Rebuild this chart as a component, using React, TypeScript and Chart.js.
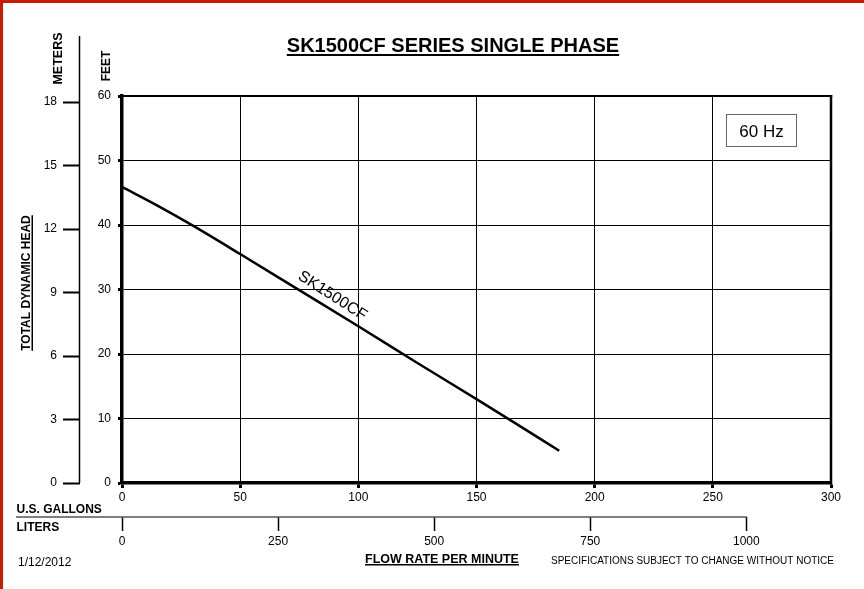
import { useEffect, useRef } from "react";
import { Chart, registerables } from "chart.js";

Chart.register(...registerables);

// ---- data ----
const flowGpm = [0, 15, 30, 50, 75, 100, 125, 150, 165, 185];
const headFt = [45.9, 43.0, 39.9, 35.5, 29.9, 24.3, 18.6, 13.0, 9.6, 5.0];

const gpmTicks = [0, 50, 100, 150, 200, 250, 300];
const feetTicks = [0, 10, 20, 30, 40, 50, 60];
const meterTicks = [0, 3, 6, 9, 12, 15, 18];
const literTicks = [0, 250, 500, 750, 1000];

const GAL_TO_L = 3.78541;
const FT_TO_M = 0.3048;

const titleText = "SK1500CF SERIES SINGLE PHASE";
const seriesName = "SK1500CF";
const hzText = "60 Hz";
const metersText = "METERS";
const feetText = "FEET";
const headText = "TOTAL DYNAMIC HEAD";
const gallonsText = "U.S. GALLONS";
const litersText = "LITERS";
const dateText = "1/12/2012";
const flowText = "FLOW RATE PER MINUTE";
const specText = "SPECIFICATIONS SUBJECT TO CHANGE WITHOUT NOTICE";

const FAMILY = '"Liberation Sans", Arial, Helvetica, sans-serif';

function line(ctx: CanvasRenderingContext2D, x1: number, y1: number, x2: number, y2: number) {
  ctx.beginPath();
  ctx.moveTo(x1, y1);
  ctx.lineTo(x2, y2);
  ctx.stroke();
}

function text(
  ctx: CanvasRenderingContext2D,
  t: string,
  x: number,
  y: number,
  font: string,
  align: CanvasTextAlign,
  opts: { rot?: number; underline?: number; ulOffset?: number; baseline?: CanvasTextBaseline } = {}
) {
  ctx.save();
  ctx.translate(x, y);
  if (opts.rot) ctx.rotate(opts.rot);
  ctx.font = font;
  ctx.fillStyle = "#000";
  ctx.textAlign = align;
  ctx.textBaseline = opts.baseline || "alphabetic";
  ctx.fillText(t, 0, 0);
  if (opts.underline) {
    const w = ctx.measureText(t).width;
    let x0 = 0;
    if (align === "center") x0 = -w / 2;
    else if (align === "right") x0 = -w;
    ctx.fillRect(x0, opts.ulOffset ?? 2, w, opts.underline);
  }
  ctx.restore();
}

const plainLabel = (v: any) => String(v);

const decorPlugin = {
  id: "decor",
  beforeDraw(chart: any) {
    const { ctx, width, height } = chart;
    ctx.save();
    ctx.fillStyle = "#ffffff";
    ctx.fillRect(0, 0, width, height);
    ctx.fillStyle = "#c81e00";
    ctx.fillRect(0, 0, 3, height);
    ctx.fillRect(0, 0, width, 3);
    ctx.restore();
  },
  afterDraw(chart: any) {
    const { ctx, chartArea: ca, scales } = chart;
    ctx.save();
    ctx.strokeStyle = "#000";
    // top and right frame
    ctx.lineWidth = 2;
    line(ctx, ca.left, ca.top, ca.right + 1.2, ca.top);
    ctx.lineWidth = 2.5;
    line(ctx, ca.right, ca.top - 1, ca.right, ca.bottom + 1.5);
    // meters axis line
    const m = scales.yM;
    ctx.lineWidth = 1.5;
    line(ctx, m.right - 0.5, 36, m.right - 0.5, ca.bottom);
    // liters axis line
    const L = scales.xL;
    ctx.strokeStyle = "#555";
    ctx.lineWidth = 1.5;
    line(ctx, 16, L.top, L.getPixelForValue(literTicks[literTicks.length - 1]) + 0.5, L.top);

    // series label along the curve
    const xs = scales.x;
    const ys = scales.y;
    const p1x = xs.getPixelForValue(flowGpm[3]);
    const p1y = ys.getPixelForValue(headFt[3]);
    const p2x = xs.getPixelForValue(flowGpm[7]);
    const p2y = ys.getPixelForValue(headFt[7]);
    const ang = Math.atan2(p2y - p1y, p2x - p1x) + 0.02;
    text(ctx, seriesName, xs.getPixelForValue(89), ys.getPixelForValue(29.0), `16px ${FAMILY}`, "center", {
      rot: ang,
      baseline: "middle",
    });

    // title
    text(ctx, titleText, 453, 52, `bold 20px ${FAMILY}`, "center", { underline: 2, ulOffset: 2 });

    // 60 Hz box
    ctx.strokeStyle = "#666";
    ctx.lineWidth = 1;
    ctx.strokeRect(726.5, 114.5, 70, 32);
    text(ctx, hzText, 761.5, 136.5, `17px ${FAMILY}`, "center");

    // axis titles
    text(ctx, metersText, 61.5, 58.5, `bold 12.5px ${FAMILY}`, "center", { rot: -Math.PI / 2 });
    text(ctx, feetText, 110, 66, `bold 12px ${FAMILY}`, "center", { rot: -Math.PI / 2 });
    text(ctx, headText, 30, 283, `bold 12px ${FAMILY}`, "center", {
      rot: -Math.PI / 2,
      underline: 1.5,
      ulOffset: 1.5,
    });

    text(ctx, gallonsText, 16.5, 512.5, `bold 12px ${FAMILY}`, "left");
    text(ctx, litersText, 16.5, 530.5, `bold 12px ${FAMILY}`, "left");
    text(ctx, dateText, 18, 565.5, `12px ${FAMILY}`, "left");
    text(ctx, flowText, 442, 562.5, `bold 12.5px ${FAMILY}`, "center", { underline: 1.5, ulOffset: 1.5 });
    text(ctx, specText, 692.5, 564, `10px ${FAMILY}`, "center");

    ctx.restore();
  },
};

export default function App() {
  const ref = useRef<HTMLCanvasElement | null>(null);

  useEffect(() => {
    if (!ref.current) return;
    const tickFont = { family: FAMILY, size: 12 };
    const chart = new Chart(ref.current, {
      type: "line",
      data: {
        datasets: [
          {
            label: seriesName,
            data: flowGpm.map((x, i) => ({ x, y: headFt[i] })),
            borderColor: "#000",
            borderWidth: 2.5,
            pointRadius: 0,
            cubicInterpolationMode: "monotone",
            fill: false,
            xAxisID: "x",
            yAxisID: "y",
          },
        ],
      },
      options: {
        animation: false,
        responsive: false,
        devicePixelRatio: 1,
        layout: { padding: { top: 96, right: 33, left: 0, bottom: 0 } },
        plugins: { legend: { display: false }, tooltip: { enabled: false }, title: { display: false } },
        events: [],
        scales: {
          x: {
            type: "linear",
            position: "bottom",
            weight: 0,
            min: 0,
            max: 300,
            afterBuildTicks: (s: any) => {
              s.ticks = gpmTicks.map((v) => ({ value: v }));
            },
            afterFit: (s: any) => {
              s.height = 34;
            },
            ticks: { font: tickFont, color: "#000", padding: 2, maxRotation: 0, autoSkip: false, callback: plainLabel },
            grid: { color: "#000", lineWidth: 1, tickLength: 5, tickWidth: 3, tickColor: "#000" },
            border: { display: true, color: "#000", width: 3.5 },
          },
          xL: {
            type: "linear",
            position: "bottom",
            weight: 1,
            min: 0,
            max: 300 * GAL_TO_L,
            afterBuildTicks: (s: any) => {
              s.ticks = literTicks.map((v) => ({ value: v }));
            },
            afterFit: (s: any) => {
              s.height = 72;
            },
            ticks: { font: tickFont, color: "#000", padding: 3, maxRotation: 0, autoSkip: false, callback: plainLabel },
            grid: { drawOnChartArea: false, tickLength: 14, tickWidth: 1.5, tickColor: "#000" },
            border: { display: false },
          },
          y: {
            type: "linear",
            position: "left",
            weight: 0,
            min: 0,
            max: 60,
            afterBuildTicks: (s: any) => {
              s.ticks = feetTicks.map((v) => ({ value: v }));
            },
            afterFit: (s: any) => {
              s.width = 42;
            },
            ticks: { font: tickFont, color: "#000", padding: 7, autoSkip: false, callback: plainLabel },
            grid: { color: "#000", lineWidth: 1, tickLength: 4, tickWidth: 3, tickColor: "#000" },
            border: { display: true, color: "#000", width: 3.5 },
          },
          yM: {
            type: "linear",
            position: "left",
            weight: 1,
            min: 0,
            max: 60 * FT_TO_M,
            afterBuildTicks: (s: any) => {
              s.ticks = meterTicks.map((v) => ({ value: v }));
            },
            afterFit: (s: any) => {
              s.width = 80;
            },
            ticks: { font: tickFont, color: "#000", padding: 6, autoSkip: false, callback: plainLabel },
            grid: { drawOnChartArea: false, tickLength: 17, tickWidth: 2, tickColor: "#000" },
            border: { display: false },
          },
        },
      } as any,
      plugins: [decorPlugin],
    });
    return () => chart.destroy();
  }, []);

  return (
    <div style={{ position: "fixed", left: 0, top: 0, width: 864, height: 589, background: "#fff" }}>
      <canvas ref={ref} width={864} height={589} style={{ display: "block", width: 864, height: 589 }} />
    </div>
  );
}
